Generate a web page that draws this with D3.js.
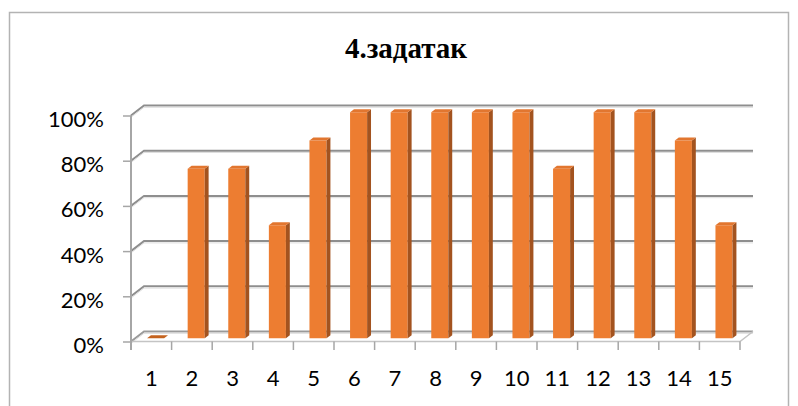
<!DOCTYPE html>
<html>
<head>
<meta charset="utf-8">
<script src="https://cdn.jsdelivr.net/npm/d3@7/dist/d3.min.js"></script>
<style>
  html, body { margin: 0; padding: 0; background: #fff; }
  svg { display: block; }
</style>
</head>
<body>
<svg id="chart" width="798" height="406"></svg>
<script>
// Task results: share of correct answers per student
const titleText = "4.задатак";
const categories = ["1","2","3","4","5","6","7","8","9","10","11","12","13","14","15"];
const values = [0, 0.75, 0.75, 0.5, 0.875, 1, 1, 1, 1, 1, 0.75, 1, 1, 0.875, 0.5];
const yTicks = [0, 0.2, 0.4, 0.6, 0.8, 1];

const svg = d3.select("#chart");

// Chart-area frame
svg.append("rect")
  .attr("x", 9.5).attr("y", 12.5)
  .attr("width", 779).attr("height", 420)
  .attr("fill", "#fff")
  .attr("stroke", "#b3b3b3")
  .attr("stroke-width", 1.5);

// Title
svg.append("text")
  .attr("x", 406).attr("y", 58)
  .attr("text-anchor", "middle")
  .attr("font-family", "'Liberation Serif', 'Times New Roman', serif")
  .attr("font-weight", "bold")
  .attr("font-size", 29)
  .attr("fill", "#000")
  .text(titleText);

// Scales: front plane of the 3D box
const x = d3.scaleBand().domain(categories).range([131, 740]).padding(0);
const y = d3.scaleLinear().domain([0, 1]).range([341.5, 115.5]);

// Depth projection: depth 0 = front, 1 = back wall
const DX = 13, DY = -10;
const proj = (px, py, d) => [px + DX * d, py + DY * d];

const gridColor = "#8e8e8e";
const line = d3.line();

// Gridlines on side wall + back wall
const grid = svg.append("g");
yTicks.forEach(t => {
  const yf = y(t);
  const pts = [[x.range()[0], yf], proj(x.range()[0], yf, 1), proj(x.range()[1], yf, 1)];
  grid.append("path")
    .attr("d", line(pts))
    .attr("fill", "none")
    .attr("stroke", t === 0 ? "#9a9a9a" : gridColor)
    .attr("stroke-width", 2);
  grid.append("path")
    .attr("d", line(pts.map(p => [p[0], p[1] + 1.8])))
    .attr("fill", "none")
    .attr("stroke", "#dedede")
    .attr("stroke-width", 1);
});

// Floor front edge and right edge
const x0 = x.range()[0], x1 = x.range()[1], yb = y(0);
svg.append("path")
  .attr("d", line([[x0, yb], [x1, yb], proj(x1, yb, 1)]))
  .attr("fill", "none")
  .attr("stroke", "#c4c4c4")
  .attr("stroke-width", 1.5);

// Category tick marks at band boundaries
const boundaries = categories.map(c => x(c)).concat([x1]);
svg.append("g").selectAll("line").data(boundaries).join("line")
  .attr("x1", d => d).attr("x2", d => d)
  .attr("y1", yb).attr("y2", yb + 8.5)
  .attr("stroke", "#a6a6a6")
  .attr("stroke-width", 1.5);

// Value axis with ticks and percent labels
const yAxis = d3.axisLeft(y)
  .tickValues(yTicks)
  .tickFormat(d3.format(".0%"))
  .tickSize(8)
  .tickSizeOuter(0)
  .tickPadding(19);
const yG = svg.append("g")
  .attr("transform", `translate(${x0},0)`)
  .call(yAxis);
yG.select(".domain")
  .attr("d", `M0,${y(1)}V${yb + 8.5}`)
  .attr("stroke", "#a6a6a6")
  .attr("stroke-width", 2);
yG.selectAll(".tick line").attr("stroke", "#a6a6a6").attr("stroke-width", 1.5);
yG.selectAll(".tick text")
  .attr("font-family", "Lato, 'Liberation Sans', sans-serif")
  .attr("font-size", 22)
  .attr("fill", "#000")
  .attr("dy", "0.5em");

// Category labels
const xAxis = d3.axisBottom(x).tickSize(0).tickPadding(0);
const xG = svg.append("g")
  .attr("transform", `translate(0,${yb})`)
  .call(xAxis);
xG.select(".domain").remove();
xG.selectAll(".tick text")
  .attr("font-family", "Lato, 'Liberation Sans', sans-serif")
  .attr("font-size", 22)
  .attr("fill", "#000")
  .attr("dy", 0)
  .attr("y", 44);

// 3D columns
const barFrac = 0.42;
const dFront = 0.33, dBack = 0.63;
const bars = svg.append("g");
categories.forEach((c, i) => {
  const v = values[i];
  const w = x.bandwidth() * barFrac;
  const cx = x(c) + x.bandwidth() / 2;
  const l = cx - w / 2, r = cx + w / 2;
  const yt = y(v);
  const fl = proj(l, yb, dFront), fr = proj(r, yb, dFront);
  const tl = proj(l, yt, dFront), tr = proj(r, yt, dFront);
  const btl = proj(l, yt, dBack), btr = proj(r, yt, dBack), bbr = proj(r, yb, dBack);
  const g = bars.append("g");
  if (v > 0) {
    g.append("path").attr("d", line([fl, fr, tr, tl]) + "Z").attr("fill", "#ED7D31");
    g.append("path").attr("d", line([fr, bbr, btr, tr]) + "Z").attr("fill", "#A3531F");
  }
  g.append("path").attr("d", line([tl, tr, btr, btl]) + "Z")
    .attr("fill", v > 0 ? "#E2762F" : "#C4631F");
});
</script>
</body>
</html>
